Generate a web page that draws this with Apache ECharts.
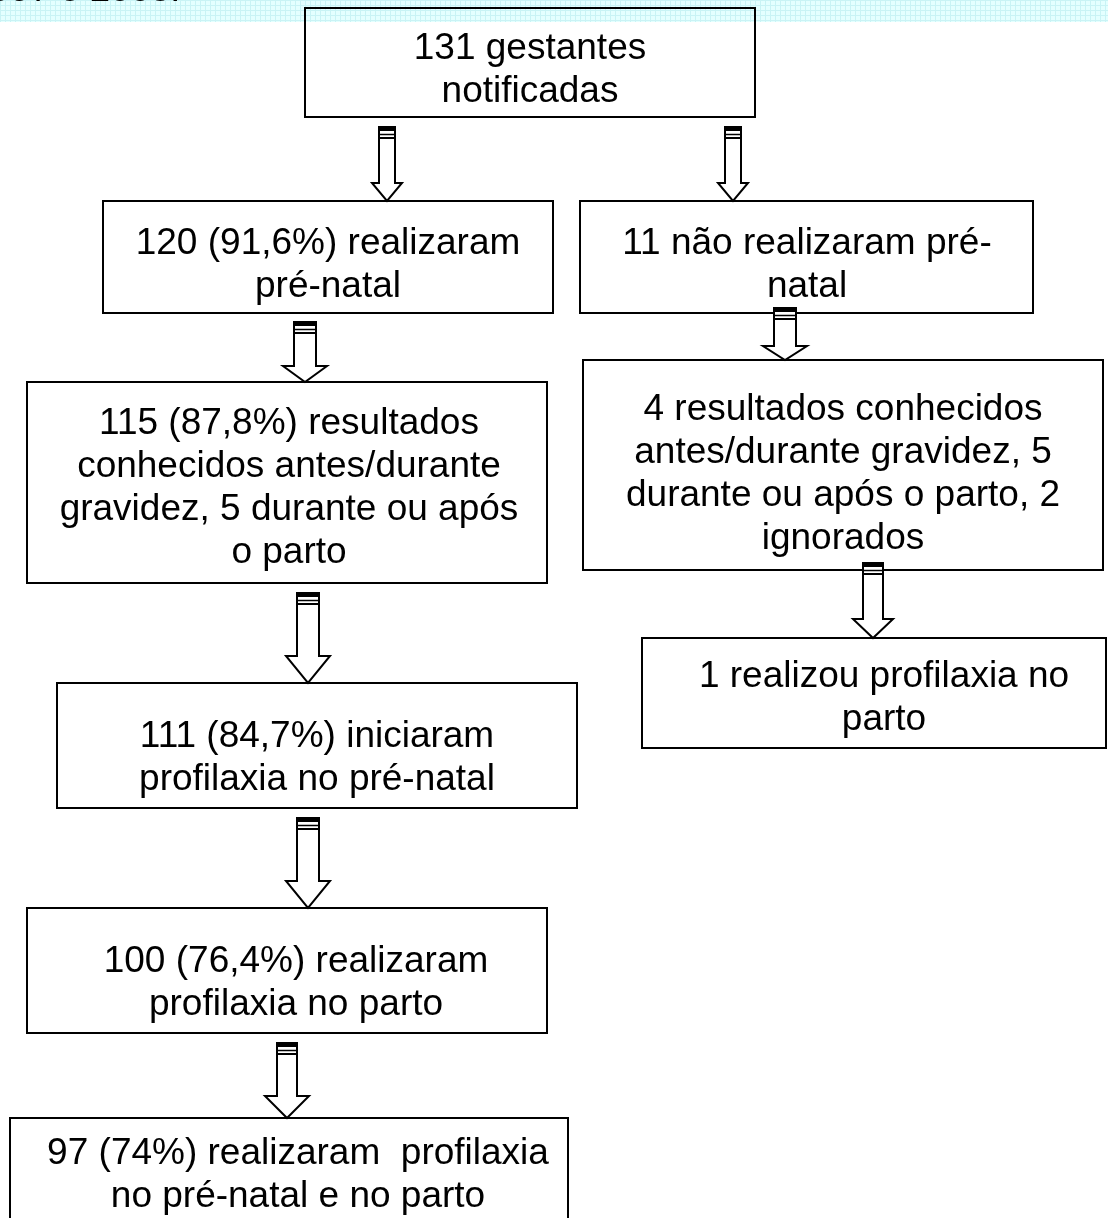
<!DOCTYPE html>
<html>
<head>
<meta charset="utf-8">
<script src="https://cdn.jsdelivr.net/npm/echarts@6/dist/echarts.min.js"></script>
<style>
  html, body { margin: 0; padding: 0; background: #fff; }
  #chart { width: 1108px; height: 1218px; }
</style>
</head>
<body>
<div id="chart"></div>
<script>
// flowchart content
const titleFragment = '997 e 2008.'
const nodeLabels = [
  '131 gestantes\nnotificadas',
  '120 (91,6%) realizaram\npré-natal',
  '11 não realizaram pré-\nnatal',
  '115 (87,8%) resultados\nconhecidos antes/durante\ngravidez, 5 durante ou após\no parto',
  '4 resultados conhecidos\nantes/durante gravidez, 5\ndurante ou após o parto, 2\nignorados',
  '111 (84,7%) iniciaram\nprofilaxia no pré-natal',
  '1 realizou profilaxia no\nparto',
  '100 (76,4%) realizaram\nprofilaxia no parto',
  '97 (74%) realizaram  profilaxia\nno pré-natal e no parto'
]
const links = [[0, 1], [0, 2], [1, 3], [2, 4], [4, 6], [3, 5], [5, 7], [7, 8]]

// layout: box x, y, w, h, text center x, text center y
const boxLayout = [
  [305, 8, 450, 109, 530, 70],
  [103, 201, 450, 112, 328, 265],
  [580, 201, 453, 112, 807, 265],
  [27, 382, 520, 201, 289, 488],
  [583, 360, 520, 210, 843, 474],
  [57, 683, 520, 125, 317, 758],
  [642, 638, 464, 110, 884, 698],
  [27, 908, 520, 125, 296, 983],
  [10, 1118, 558, 130, 298, 1175]
]
// arrow layout per link: center x, top, tip, shaft half width, head half width, head height
const arrowLayout = [
  [387, 127, 201, 8, 15, 18],
  [733, 127, 201, 8, 15, 18],
  [305, 322, 382, 11, 22, 16],
  [785, 308, 360, 11, 22, 14],
  [873, 563, 638, 10, 20, 19],
  [308, 593, 683, 11, 22, 27],
  [308, 818, 908, 11, 22, 27],
  [287, 1043, 1118, 10, 22, 22]
]

const FONT = "'Liberation Sans', Arial, sans-serif"

function bandPattern() {
  const c = document.createElement('canvas')
  c.width = 5
  c.height = 5
  const ctx = c.getContext('2d')
  ctx.fillStyle = '#e4ffff'
  ctx.fillRect(0, 0, 5, 5)
  ctx.fillStyle = '#c9f3f5'
  ctx.fillRect(0, 0, 5, 1)
  ctx.fillRect(0, 0, 1, 5)
  return c
}

const elements = []

// cyan header strip with the cut-off title
elements.push({
  type: 'rect', shape: { x: 0, y: 0, width: 1108, height: 22 },
  style: { fill: { image: bandPattern(), repeat: 'repeat' } }, z: 0
})
elements.push({
  type: 'text', x: -10, y: -9, z: 1,
  style: {
    text: titleFragment, font: '36px ' + FONT, fill: '#000',
    textAlign: 'left', align: 'left', textVerticalAlign: 'middle', verticalAlign: 'middle'
  }
})

nodeLabels.forEach((label, i) => {
  const [x, y, w, h, tx, ty] = boxLayout[i]
  elements.push({
    type: 'rect', z: 2,
    shape: { x: x, y: y, width: w, height: h },
    style: { fill: i === 0 ? 'transparent' : '#fff', stroke: '#000', lineWidth: 2 }
  })
  elements.push({
    type: 'text', x: tx, y: ty, z: 3,
    style: {
      text: label, fontSize: 37, fontFamily: FONT, lineHeight: 43, fill: '#000',
      textAlign: 'center', align: 'center', textVerticalAlign: 'middle', verticalAlign: 'middle'
    }
  })
})

links.forEach((link, i) => {
  const [cx, top, tip, w, hw, hh] = arrowLayout[i]
  const capH = 11
  elements.push({
    type: 'polygon', z: 4,
    shape: {
      points: [
        [cx - w, top + capH], [cx + w, top + capH], [cx + w, tip - hh], [cx + hw, tip - hh],
        [cx, tip], [cx - hw, tip - hh], [cx - w, tip - hh]
      ]
    },
    style: { fill: '#fff', stroke: '#000', lineWidth: 2 }
  })
  elements.push({
    type: 'rect', z: 5,
    shape: { x: cx - w, y: top, width: 2 * w, height: capH },
    style: { fill: '#fff', stroke: '#000', lineWidth: 2 }
  })
  elements.push({
    type: 'rect', z: 6,
    shape: { x: cx - w, y: top, width: 2 * w, height: 4 },
    style: { fill: '#000' }
  })
  elements.push({
    type: 'line', z: 6,
    shape: { x1: cx - w, y1: top + 7.5, x2: cx + w, y2: top + 7.5 },
    style: { stroke: '#000', lineWidth: 1.5 }
  })
})

const chart = echarts.init(document.getElementById('chart'))
chart.setOption({
  backgroundColor: '#fff',
  animation: false,
  graphic: { elements: elements }
})
</script>
</body>
</html>
